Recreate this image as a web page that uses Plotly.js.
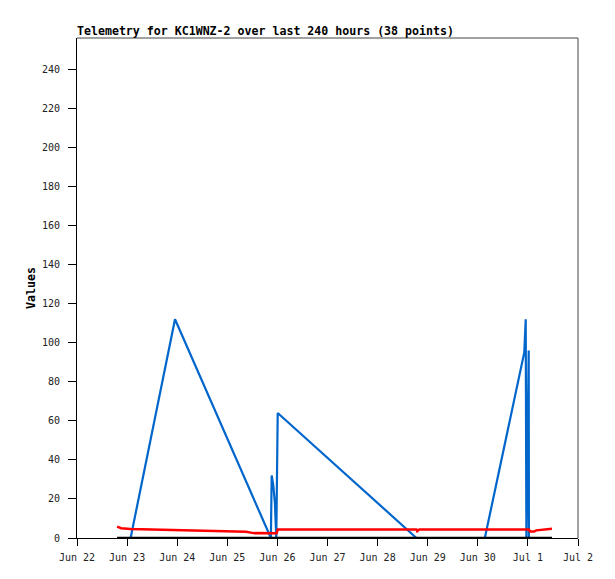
<!DOCTYPE html>
<html>
<head>
<meta charset="utf-8">
<script src="https://cdn.plot.ly/plotly-3.0.1.min.js"></script>
<style>html,body{margin:0;padding:0;background:#fff;}#chart{width:615px;height:579px;}</style>
</head>
<body>
<div id="chart"></div>
<script>
// Series 1 (blue)
const blueTimes = [
  '2025-06-22 19:12', '2025-06-23 01:41', '2025-06-23 22:57', '2025-06-25 20:53',
  '2025-06-25 21:16', '2025-06-25 22:02', '2025-06-25 22:48', '2025-06-25 23:28',
  '2025-06-26 00:09', '2025-06-28 18:37', '2025-06-30 03:22', '2025-06-30 22:16',
  '2025-06-30 22:57', '2025-06-30 22:58', '2025-06-30 23:17', '2025-07-01 00:23',
  '2025-07-01 00:29', '2025-07-01 11:31'
];
const blueValues = [0, 0, 112, 0, 32, 27, 18, 0, 64, 0, 0, 95, 112, 56, 0, 96, 0, 0];

// Series 2 (red)
const redTimes = [
  '2025-06-22 19:12', '2025-06-22 21:10', '2025-06-23 01:41', '2025-06-23 13:00',
  '2025-06-24 00:00', '2025-06-24 12:00', '2025-06-25 09:00', '2025-06-25 12:30',
  '2025-06-25 20:53', '2025-06-25 23:40', '2025-06-26 00:09', '2025-06-28 18:37',
  '2025-06-28 19:00', '2025-06-28 20:00', '2025-06-28 21:00', '2025-07-01 00:29',
  '2025-07-01 01:00', '2025-07-01 03:00', '2025-07-01 04:00', '2025-07-01 10:00',
  '2025-07-01 11:31'
];
const redValues = [5.8, 5.0, 4.6, 4.3, 3.9, 3.5, 3.2, 2.5, 2.4, 2.4, 4.4, 4.4,
  3.5, 4.4, 4.4, 4.4, 3.3, 3.3, 3.9, 4.6, 4.7];

// Series 3 (black)
const blackTimes = ['2025-06-22 19:12', '2025-07-01 11:31'];
const blackValues = [0, 0];

const yTickVals = [0, 20, 40, 60, 80, 100, 120, 140, 160, 180, 200, 220, 240];
const titleText = 'Telemetry for KC1WNZ-2 over last 240 hours (38 points)';
const yTitle = 'Values';

const mono = 'DejaVu Sans Mono, Liberation Mono, monospace';

const traces = [
  {x: blueTimes, y: blueValues, type: 'scatter', mode: 'lines',
   line: {color: '#0066CC', width: 2.2}, hoverinfo: 'skip'},
  {x: redTimes, y: redValues, type: 'scatter', mode: 'lines',
   line: {color: '#FF0000', width: 2.5, shape: 'linear'}, hoverinfo: 'skip'},
  {x: blackTimes, y: blackValues, type: 'scatter', mode: 'lines',
   line: {color: '#000000', width: 2.5}, hoverinfo: 'skip'}
];

const layout = {
  width: 615, height: 579,
  margin: {l: 77, r: 37, t: 38, b: 41, pad: 0},
  paper_bgcolor: '#ffffff', plot_bgcolor: '#ffffff',
  showlegend: false,
  title: {text: titleText, font: {family: mono, size: 11.6, color: '#000', weight: 'bold'},
          x: 77/615, xref: 'container', xanchor: 'left', y: 1 - 31/579, yref: 'container', yanchor: 'middle'},
  xaxis: {
    type: 'date', range: ['2025-06-22', '2025-07-02'],
    tick0: '2025-06-22', dtick: 86400000, tickformat: '%b %-d',
    ticks: 'outside', ticklen: 7, tickcolor: '#000', tickwidth: 1,
    ticklabelstandoff: 3,
    showline: true, linecolor: '#000', linewidth: 1,
    showgrid: false, zeroline: false,
    tickfont: {family: mono, size: 10, color: '#222'}
  },
  yaxis: {
    range: [0, 256], tickvals: yTickVals,
    ticks: 'outside', ticklen: 8, tickcolor: '#000', tickwidth: 1,
    ticklabelstandoff: 6,
    showline: true, linecolor: '#000', linewidth: 1,
    showgrid: false, zeroline: false,
    tickfont: {family: mono, size: 10, color: '#222'},
    title: {text: yTitle, font: {family: mono, size: 11.6, color: '#000', weight: 'bold'}, standoff: 3}
  },
  shapes: [
    {type: 'line', xref: 'paper', yref: 'paper', x0: 0, x1: 1, y0: 1, y1: 1, line: {color: '#444', width: 1}},
    {type: 'line', xref: 'paper', yref: 'paper', x0: 1, x1: 1, y0: 0, y1: 1, line: {color: '#444', width: 1}}
  ]
};

Plotly.newPlot('chart', traces, layout, {displayModeBar: false, staticPlot: true});
</script>
</body>
</html>
